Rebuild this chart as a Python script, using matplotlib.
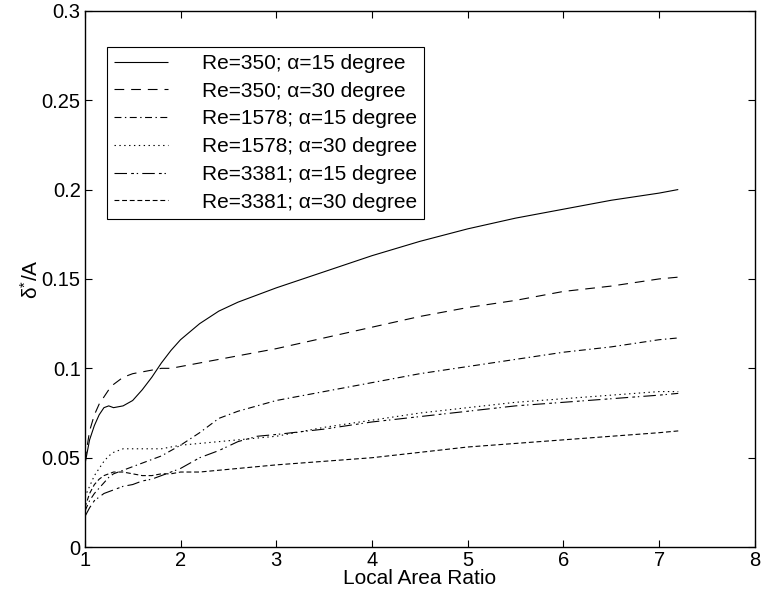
import matplotlib
matplotlib.use("Agg")
import matplotlib.pyplot as plt

plt.rcParams['font.family'] = ['Liberation Sans', 'DejaVu Sans']
plt.rcParams['mathtext.fontset'] = 'custom'
plt.rcParams['mathtext.rm'] = 'Liberation Sans'
plt.rcParams['mathtext.it'] = 'Liberation Sans'
plt.rcParams['lines.scale_dashes'] = False

# Данные
area_ratio = [1.0, 1.05, 1.1, 1.15, 1.2, 1.25, 1.3, 1.4, 1.5, 1.6, 1.7, 1.8, 1.9, 2.0,
              2.2, 2.4, 2.6, 2.8, 3.0, 3.5, 4.0, 4.5, 5.0, 5.5, 6.0, 6.5, 7.0, 7.2]

re350_a15 = [0.046, 0.060, 0.068, 0.074, 0.078, 0.079, 0.078, 0.079, 0.082, 0.088, 0.095,
             0.103, 0.110, 0.116, 0.125, 0.132, 0.137, 0.141, 0.145, 0.154, 0.163, 0.171,
             0.178, 0.184, 0.189, 0.194, 0.198, 0.200]
re350_a30 = [0.048, 0.065, 0.074, 0.080, 0.084, 0.088, 0.091, 0.095, 0.097, 0.098, 0.099,
             0.100, 0.100, 0.101, 0.103, 0.105, 0.107, 0.109, 0.111, 0.117, 0.123, 0.129,
             0.134, 0.138, 0.143, 0.146, 0.150, 0.151]
re1578_a15 = [0.020, 0.026, 0.030, 0.033, 0.036, 0.039, 0.041, 0.043, 0.045, 0.047, 0.049,
              0.051, 0.054, 0.057, 0.064, 0.072, 0.076, 0.079, 0.082, 0.087, 0.092, 0.097,
              0.101, 0.105, 0.109, 0.112, 0.116, 0.117]
re1578_a30 = [0.028, 0.034, 0.040, 0.044, 0.048, 0.051, 0.053, 0.055, 0.055, 0.055, 0.055,
              0.055, 0.056, 0.057, 0.058, 0.059, 0.060, 0.061, 0.062, 0.067, 0.071, 0.075,
              0.078, 0.081, 0.083, 0.085, 0.087, 0.087]
re3381_a15 = [0.017, 0.022, 0.026, 0.028, 0.030, 0.031, 0.032, 0.034, 0.035, 0.037, 0.038,
              0.040, 0.042, 0.044, 0.050, 0.054, 0.059, 0.062, 0.063, 0.066, 0.070, 0.073,
              0.076, 0.079, 0.081, 0.083, 0.085, 0.086]
re3381_a30 = [0.022, 0.030, 0.035, 0.038, 0.040, 0.041, 0.042, 0.042, 0.041, 0.040, 0.040,
              0.041, 0.041, 0.042, 0.042, 0.043, 0.044, 0.045, 0.046, 0.048, 0.050, 0.053,
              0.056, 0.058, 0.060, 0.062, 0.064, 0.065]

labels = ['Re=350; α=15 degree', 'Re=350; α=30 degree', 'Re=1578; α=15 degree',
          'Re=1578; α=30 degree', 'Re=3381; α=15 degree', 'Re=3381; α=30 degree']

fig = plt.figure(figsize=(7.64, 5.96), dpi=100)
ax = fig.add_axes([0.111, 0.082, 0.877, 0.900])

# стили линий в духе MATLAB
styles = [
    (0, ()),
    (0, (7, 5)),
    (0, (5, 2.5, 1, 2.5)),
    (0, (1, 2.5)),
    (0, (9, 3, 2, 2, 1, 3)),
    (0, (3.5, 2)),
]
series = [re350_a15, re350_a30, re1578_a15, re1578_a30, re3381_a15, re3381_a30]

for y, ls, lab in zip(series, styles, labels):
    ax.plot(area_ratio, y, color='black', linewidth=0.8, linestyle=ls, label=lab)

ax.set_xlim(1, 8)
ax.set_ylim(0, 0.3)
ax.set_xticks([1, 2, 3, 4, 5, 6, 7, 8])
ax.set_yticks([0, 0.05, 0.1, 0.15, 0.2, 0.25, 0.3])
ax.set_yticklabels(['0', '0.05', '0.1', '0.15', '0.2', '0.25', '0.3'])
ax.tick_params(direction='in', length=5, width=0.8, labelsize=14.5,
               top=True, right=True, pad=3)
for s in ax.spines.values():
    s.set_linewidth(1.0)

ax.set_xlabel('Local Area Ratio', fontsize=15, labelpad=-1)
ax.set_ylabel('δ$^{*}$/A', fontsize=15, labelpad=0)

leg = ax.legend(loc='upper left', bbox_to_anchor=(0.033, 0.933), fontsize=15,
                frameon=True, fancybox=False, edgecolor='black', framealpha=1,
                handlelength=2.6, handletextpad=1.6, labelspacing=0.42,
                borderpad=0.35, borderaxespad=0)
leg.get_frame().set_linewidth(0.8)

fig.savefig('out.png', dpi=100)
